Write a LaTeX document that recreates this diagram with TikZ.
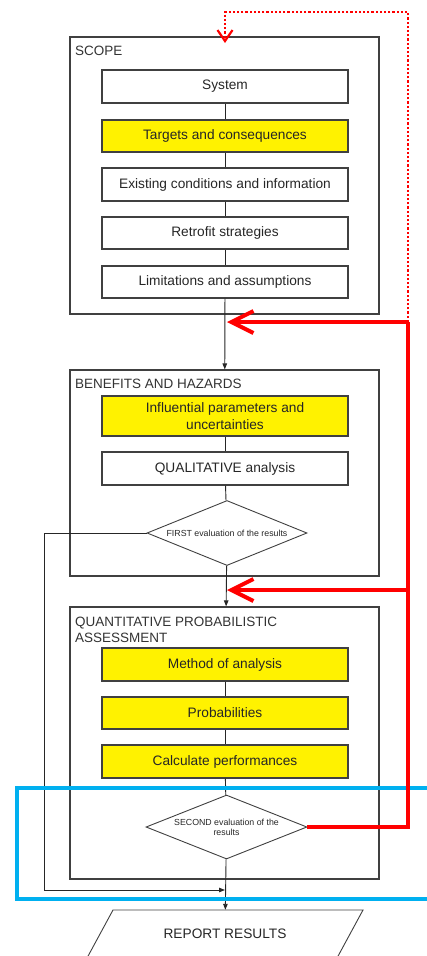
\documentclass[tikz,border=0pt]{standalone}
\usepackage{fontspec}
\setmainfont{Liberation Sans}
\usetikzlibrary{arrows.meta,shapes.geometric}
\definecolor{boxyellow}{RGB}{255,242,0}
\definecolor{fbred}{RGB}{255,0,0}
\definecolor{hlblue}{RGB}{0,176,240}
\begin{document}
\begin{tikzpicture}[x=1pt,y=-1pt,
  group/.style={draw=black!75,line width=1.2pt,minimum width=309pt,inner sep=0pt},
  stage/.style={draw=black!75,line width=1.2pt,minimum width=246pt,minimum height=33pt,inner sep=2pt,
    font=\fontsize{13.7}{17}\selectfont,text=black!85,align=center},
  hl/.style={stage,fill=boxyellow},
  title/.style={anchor=base west,inner sep=0pt,align=left,font=\fontsize{13.5}{16}\selectfont,text=black!80},
  check/.style={diamond,aspect=2.48,draw=black!75,line width=0.9pt,inner sep=0.5pt,align=center,
    font=\fontsize{8.8}{10}\selectfont,text=black!85},
  link/.style={black!85,line width=0.9pt},
  arr/.style={link,-{Triangle[length=6pt,width=4.5pt]}},
  fb/.style={fbred,line width=4pt},
  fbarr/.style={fb,-{Straight Barb[length=22pt,width=22pt]}},
  loopback/.style={fbred,line width=2.2pt,dotted,-{Straight Barb[length=11pt,width=15pt]}}]
\clip (0,0) rectangle (427,956);

% scope
\node[group,minimum height=277pt] (scope) at (224.5,175.5) {};
\node[title] (scopetitle) at (75,55) {SCOPE};
\node[stage] (sys) at (225,86.5) {System};
\node[hl,minimum height=32pt] (tgt) at (225,136) {Targets and consequences};
\node[stage] (exist) at (225,184.5) {Existing conditions and information};
\node[stage,minimum height=32pt] (retro) at (225,233) {Retrofit strategies};
\node[stage,minimum height=32pt] (limits) at (225,282) {Limitations and assumptions};

% benefits and hazards
\node[group,minimum height=206pt] (ben) at (224.5,473) {};
\node[title] (bentitle) at (75,388) {BENEFITS AND HAZARDS};
\node[hl,minimum height=40pt] (infl) at (225,416) {Influential parameters and\\uncertainties};
\node[stage] (qual) at (225,468.5) {QUALITATIVE analysis};
\node[check,minimum width=160pt,minimum height=65pt] (first) at (227,533) {FIRST evaluation of the results};

% quantitative assessment
\node[group,minimum height=272pt] (quant) at (224.5,743) {};
\node[title] (quanttitle) at (75,642) {QUANTITATIVE PROBABILISTIC\\ASSESSMENT};
\node[hl] (meth) at (225,664.5) {Method of analysis};
\node[hl,minimum height=32pt] (prob) at (225,713) {Probabilities};
\node[hl] (calc) at (225,761.5) {Calculate performances};
\node[check,minimum width=161pt,minimum height=64pt] (second) at (226.5,827) {SECOND evaluation of the\\results};

% report
\node[inner sep=0pt,minimum height=48pt,font=\fontsize{13.7}{16}\selectfont,text=black!85] (report) at (225,934) {REPORT RESULTS};
\draw[black!75,line width=0.9pt] (113,910) -- (363,910) -- (337,958) -- (87,958) -- cycle;

\draw[link] (sys) -- (tgt);
\draw[link] (tgt) -- (exist);
\draw[link] (exist) -- (retro);
\draw[link] (retro) -- (limits);
\draw[arr] (limits) -- (ben);
\draw[link] (infl) -- (qual);
\draw[link] (qual) -- (first);
\draw[arr] (first) -- (quant);
\draw[link] (meth) -- (prob);
\draw[link] (prob) -- (calc);
\draw[link] (calc) -- (second);
\draw[arr] (second) -- (report);

\coordinate (skipcorner) at (44,890);
\coordinate (skipend) at (225,890);
\draw[arr] (first.west) -| (skipcorner) -- (skipend);

% highlight
\draw[hlblue,line width=4pt] (17,788) rectangle (445,899);

% feedback
\coordinate (fbtop) at (408,322);
\coordinate (fbmid) at (408,590);
\coordinate (fbin1) at (227,322);
\coordinate (fbin2) at (227,590);
\coordinate (loopcorner) at (408,12);
\coordinate (loopend) at (225,43);
\draw[loopback] (fbtop) -- (loopcorner) -| (loopend);
\draw[fb] (second.east) -| (fbtop);
\draw[fbarr] (fbtop) -- (fbin1);
\draw[fbarr] (fbmid) -- (fbin2);
\end{tikzpicture}
\end{document}
